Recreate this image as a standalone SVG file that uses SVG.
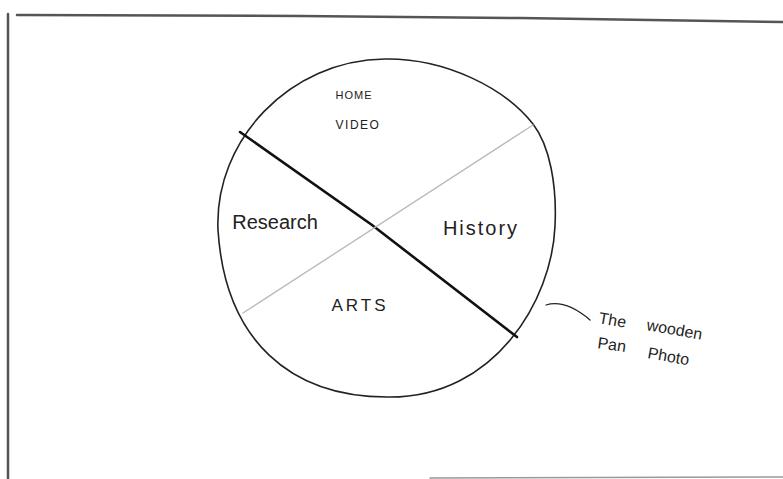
<svg xmlns="http://www.w3.org/2000/svg" width="783" height="479" viewBox="0 0 783 479">
<style>
.frame{fill:none;stroke:#555;stroke-width:2.5;stroke-linecap:round}
.ink{fill:none;stroke:#222;stroke-width:1.6;stroke-linecap:round}
.dark{fill:none;stroke:#111;stroke-width:2.6;stroke-linecap:round}
.light{fill:none;stroke:#bbb;stroke-width:1.4;stroke-linecap:round}
.lbl{font-family:"Liberation Sans",Arial,sans-serif;fill:#222}
</style>
<rect width="783" height="479" fill="#fff"/>
<g id="frame">
<path class="frame" d="M17 15 L300 16 L520 18 L783 22"/>
<path class="frame" d="M8 14 L8 479"/>
<path class="frame" d="M430 478 L783 477" style="stroke:#999;stroke-width:1.5"/>
</g>
<g id="circle">
<path class="ink" d="M385 59 C445 58 505 88 533 124 C550 146 557 186 555 226 C552 300 495 397 390 397 C290 398 225 340 218 230 C214 140 290 60 385 59 Z"/>
</g>
<g id="connectors">
<path class="dark" d="M240 132 L372 225 L517 337"/>
<path class="light" d="M533 125 L243 313"/>
<path class="ink" d="M546 305 C556 302 570 303 590 320" style="stroke-width:1.3"/>
</g>
<g id="home-video">
<text class="lbl" x="354" y="99" font-size="11" text-anchor="middle" letter-spacing="1">HOME</text>
<text class="lbl" x="358" y="129" font-size="12" text-anchor="middle" letter-spacing="1.5">VIDEO</text>
</g>
<g id="research"><text class="lbl" x="275" y="229" font-size="20" text-anchor="middle">Research</text></g>
<g id="history"><text class="lbl" x="481" y="235" font-size="20" text-anchor="middle" letter-spacing="2">History</text></g>
<g id="arts"><text class="lbl" x="360" y="311" font-size="17" text-anchor="middle" letter-spacing="3">ARTS</text></g>
<g id="note">
<text class="lbl" font-size="16" transform="translate(598 323) rotate(10)">The</text>
<text class="lbl" font-size="16" transform="translate(646 330) rotate(10)">wooden</text>
<text class="lbl" font-size="16" transform="translate(597 348) rotate(8)">Pan</text>
<text class="lbl" font-size="16" transform="translate(647 358) rotate(10)">Photo</text>
</g>
</svg>
